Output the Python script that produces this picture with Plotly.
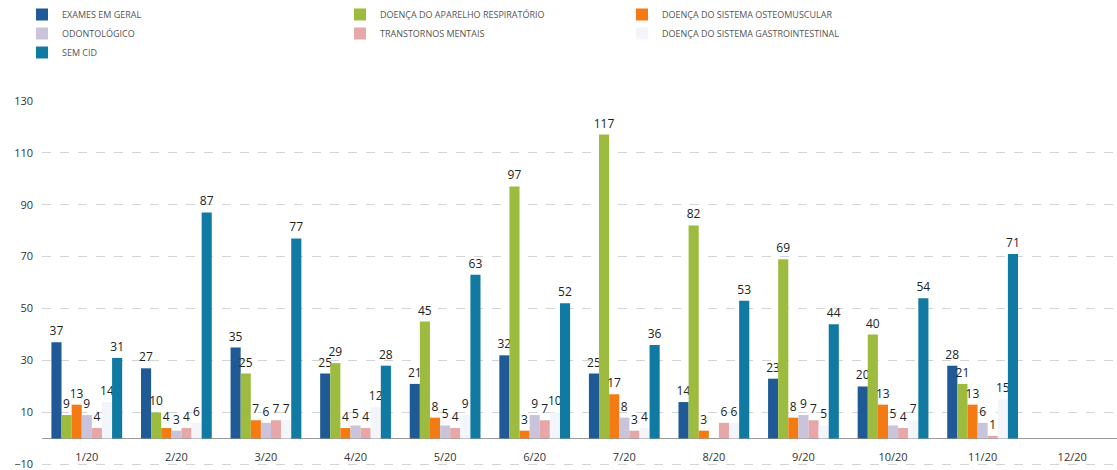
import plotly.graph_objects as go

# Monthly counts per category (None = no data for that month)
months = ["1/20", "2/20", "3/20", "4/20", "5/20", "6/20",
          "7/20", "8/20", "9/20", "10/20", "11/20", "12/20"]
exames_geral = [37, 27, 35, 25, 21, 32, 25, 14, 23, 20, 28, None]
respiratorio = [9, 10, 25, 29, 45, 97, 117, 82, 69, 40, 21, None]
osteomuscular = [13, 4, 7, 4, 8, 3, 17, 3, 8, 13, 13, None]
odontologico = [9, 3, 6, 5, 5, 9, 8, None, 9, 5, 6, None]
transtornos = [4, 4, 7, 4, 4, 7, 3, 6, 7, 4, 1, None]
gastrointestinal = [14, 6, 7, 12, 9, 10, 4, 6, 5, 7, 15, None]
sem_cid = [31, 87, 77, 28, 63, 52, 36, 53, 44, 54, 71, None]
y_ticks = [-10, 10, 30, 50, 70, 90, 110, 130]

series = [
    ("EXAMES EM GERAL", exames_geral, "#1f5a96", "legend"),
    ("DOENÇA DO APARELHO RESPIRATÓRIO", respiratorio, "#9dbb3e", "legend2"),
    ("DOENÇA DO SISTEMA OSTEOMUSCULAR", osteomuscular, "#f47b14", "legend3"),
    ("ODONTOLÓGICO", odontologico, "#c9c4dc", "legend"),
    ("TRANSTORNOS MENTAIS", transtornos, "#e6a7a8", "legend2"),
    ("DOENÇA DO SISTEMA GASTROINTESTINAL", gastrointestinal, "#f3f5fb", "legend3"),
    ("SEM CID", sem_cid, "#107aa3", "legend"),
]

label_font = "Liberation Sans Narrow, Arial Narrow, Open Sans, sans-serif"

fig = go.Figure()
for name, values, color, leg in series:
    fig.add_trace(go.Bar(
        x=months, y=values, name=name, legend=leg,
        marker=dict(color=color, line=dict(width=0)),
        text=values, texttemplate="%{y}", textposition="outside",
        constraintext="none", cliponaxis=False,
        textfont=dict(family=label_font, size=12, color="#222222"),
    ))

legend_style = dict(
    xref="container", yref="container", yanchor="top", xanchor="left",
    orientation="v", bgcolor="rgba(0,0,0,0)", borderwidth=0,
    font=dict(family=label_font, size=9, color="#555555"),
    itemwidth=30, tracegroupgap=0,
)

fig.update_layout(
    width=1117, height=470,
    barmode="group", bargap=0.21, bargroupgap=0,
    plot_bgcolor="white", paper_bgcolor="white",
    margin=dict(l=42, r=0, t=100, b=3, autoexpand=False),
    showlegend=True,
    legend=dict(x=22 / 1117, y=1 - 0 / 470, **legend_style),
    legend2=dict(x=340 / 1117, y=1 - 0 / 470, **legend_style),
    legend3=dict(x=622 / 1117, y=1 - 0 / 470, **legend_style),
    xaxis=dict(
        type="category", showgrid=False, showline=False, ticks="",
        anchor="free", position=0.05, automargin=False,
        tickfont=dict(family=label_font, size=11, color="#333333"),
    ),
    yaxis=dict(
        range=[-11.0, 130.3], tickmode="array", tickvals=y_ticks,
        automargin=False, ticklabeloverflow="allow",
        showgrid=True, gridcolor="#d4d4d4", griddash="dash", gridwidth=1,
        zeroline=True, zerolinecolor="#9a9a9a", zerolinewidth=1,
        showline=False, ticks="", ticklabelstandoff=8,
        tickfont=dict(family=label_font, size=11, color="#333333"),
    ),
)

fig.write_html("out.html")
